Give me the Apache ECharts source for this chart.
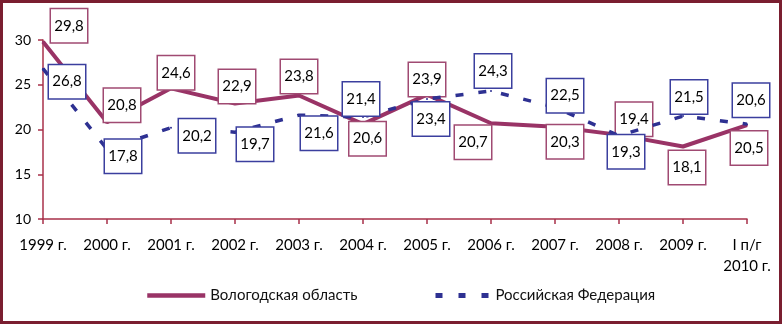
<!DOCTYPE html>
<html>
<head>
<meta charset="utf-8">
<script src="https://cdn.jsdelivr.net/npm/echarts@6/dist/echarts.min.js"></script>
<style>
html,body{margin:0;padding:0;background:#fff;}
#c{width:782px;height:324px;}
</style>
</head>
<body>
<div id="c"></div>
<script>
// ---- data ----
const categories = ['1999 г.', '2000 г.', '2001 г.', '2002 г.', '2003 г.', '2004 г.', '2005 г.', '2006 г.', '2007 г.', '2008 г.', '2009 г.', 'I п/г\n2010 г.'];
const seriesNames = ['Вологодская область', 'Российская Федерация'];
const vologda = [29.8, 20.8, 24.6, 22.9, 23.8, 20.6, 23.9, 20.7, 20.3, 19.4, 18.1, 20.5];
const russia = [26.8, 17.8, 20.2, 19.7, 21.6, 21.4, 23.4, 24.3, 22.5, 19.3, 21.5, 20.6];
const yTicks = [10, 15, 20, 25, 30];

// ---- label placement (style only: offsets of label boxes from their points) ----
const vologdaLabelOffset = [[26,-16],[15,-17],[5,-15.5],[2,-17],[0,-19],[4.5,14.5],[0,-15],[-18,19],[10,15],[15,-15.5],[4,21],[2,23]];
const russiaLabelOffset = [[24,13],[16,7],[26,8],[20,12],[20,18],[-2,-18],[4,20],[2,-20],[10,-11.5],[7,16],[6,-19],[4,-24]];

const FONT = 'Lato';
const AXIS = '#A8304A';
const C1 = '#993366', C2 = '#2E3192';
const B1 = '#A04A72', B2 = '#3B3F9E';

function labelBase(border) {
  return {
    show: true, position: 'inside',
    formatter: p => p.value.toFixed(1).replace('.', ','),
    backgroundColor: '#fff', borderColor: border, borderWidth: 1.5,
    width: 36, height: 33, lineHeight: 33, align: 'center', verticalAlign: 'middle',
    fontSize: 15, fontFamily: FONT, color: '#000'
  };
}
function mkData(vals, offs) {
  return vals.map((v, i) => ({ value: v, label: { offset: offs[i] } }));
}

const chart = echarts.init(document.getElementById('c'));
chart.setOption({
  animation: false,
  textStyle: { fontFamily: FONT },
  graphic: [{
    type: 'rect', shape: { x: 1.5, y: 1.5, width: 779, height: 321 },
    style: { fill: 'none', stroke: '#7A1E30', lineWidth: 3 }, silent: true
  }],
  grid: { left: 43, right: 35, top: 40, bottom: 105 },
  legend: [
    { data: [seriesNames[0]], left: 145, top: 288, padding: 0, itemWidth: 58, itemHeight: 16,
      itemStyle: { opacity: 0 }, lineStyle: { width: 4.5, color: C1 },
      textStyle: { fontSize: 15, color: '#111', fontFamily: FONT } },
    { data: [seriesNames[1]], left: 433, top: 288, padding: 0, itemWidth: 55, itemHeight: 16,
      itemStyle: { opacity: 0 }, lineStyle: { width: 5, color: C2, type: [7, 16] },
      textStyle: { fontSize: 15, color: '#111', fontFamily: FONT } }
  ],
  xAxis: {
    type: 'category', data: categories, boundaryGap: false,
    axisLine: { lineStyle: { color: AXIS, width: 1.5 } },
    axisTick: { show: true, length: 5, lineStyle: { color: AXIS, width: 1.5 } },
    axisLabel: { fontSize: 15, color: '#000', margin: 16, lineHeight: 21, fontFamily: FONT, interval: 0 }
  },
  yAxis: {
    type: 'value', min: yTicks[0], max: yTicks[yTicks.length - 1], interval: yTicks[1] - yTicks[0],
    axisLine: { show: true, lineStyle: { color: AXIS, width: 1.5 } },
    axisTick: { show: true, length: 5, lineStyle: { color: AXIS, width: 1.5 } },
    splitLine: { show: false },
    axisLabel: { fontSize: 14, color: '#000', margin: 12, fontFamily: FONT }
  },
  series: [
    { name: seriesNames[0], type: 'line', data: mkData(vologda, vologdaLabelOffset),
      symbol: 'circle', symbolSize: 2, itemStyle: { color: C1 },
      lineStyle: { color: C1, width: 4 }, label: labelBase(B1), z: 2 },
    { name: seriesNames[1], type: 'line', data: mkData(russia, russiaLabelOffset),
      symbol: 'circle', symbolSize: 2, itemStyle: { color: C2 },
      lineStyle: { color: C2, width: 3.5, type: [8, 15] }, label: labelBase(B2), z: 3 }
  ]
});
</script>
</body>
</html>
